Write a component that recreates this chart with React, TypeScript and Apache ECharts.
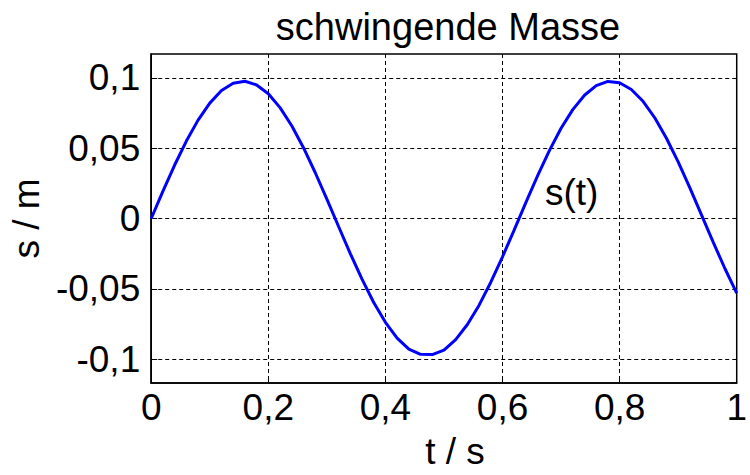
import React, { useEffect, useRef } from "react";
import * as echarts from "echarts";

// Sampled motion of the oscillating mass: time (s) and displacement (m)
const times = [
  0, 0.02, 0.04, 0.06, 0.08, 0.1, 0.12, 0.14, 0.16, 0.18, 0.2, 0.22, 0.24, 0.26,
  0.28, 0.3, 0.32, 0.34, 0.36, 0.38, 0.4, 0.42, 0.44, 0.46, 0.48, 0.5, 0.52,
  0.54, 0.56, 0.58, 0.6, 0.62, 0.64, 0.66, 0.68, 0.7, 0.72, 0.74, 0.76, 0.78,
  0.8, 0.82, 0.84, 0.86, 0.88, 0.9, 0.92, 0.94, 0.96, 0.98, 1.0,
];
const displacement = [
  0, 0.0194, 0.038, 0.055, 0.0699, 0.082, 0.0909, 0.0961, 0.0975, 0.0949,
  0.0887, 0.0788, 0.0659, 0.0503, 0.0327, 0.0138, -0.0057, -0.0249, -0.0431,
  -0.0597, -0.0738, -0.085, -0.0928, -0.0965, -0.0967, -0.0935, -0.0861,
  -0.0753, -0.0616, -0.0453, -0.0272, -0.0081, 0.0114, 0.0304, 0.0482, 0.0641,
  0.0774, 0.0876, 0.0944, 0.0974, 0.0965, 0.0917, 0.0833, 0.0716, 0.057,
  0.0402, 0.0217, 0.0024, -0.017, -0.0357, -0.053,
];

const yTicks = [-0.1, -0.05, 0, 0.05, 0.1];
const curveLabel = { text: "s(t)", t: 0.718, s: 0.0188 };

const FONT = "'Liberation Sans', Arial, Helvetica, sans-serif";
const FS = 37;

const decimalComma = (v: number) =>
  String(Number(v.toFixed(3))).replace(".", ",");

export default function App() {
  const ref = useRef<HTMLDivElement>(null);

  useEffect(() => {
    if (!ref.current) return;
    const chart = echarts.init(ref.current, undefined, { renderer: "svg" });
    const gridLine = { show: true, lineStyle: { color: "#000", width: 1, type: [4, 3] as any } };

    chart.setOption({
      animation: false,
      backgroundColor: "#fff",
      textStyle: { fontFamily: FONT },
      title: {
        text: "schwingende Masse",
        left: 443,
        top: 3,
        textAlign: "center",
        textStyle: { fontFamily: FONT, fontSize: 38, fontWeight: "normal", color: "#000" },
      },
      grid: {
        left: 145,
        width: 600,
        top: 54,
        height: 336,
        show: true,
        borderColor: "#000",
        borderWidth: 1.5,
        backgroundColor: "#fff",
      },
      xAxis: {
        type: "value",
        min: 0,
        max: 1,
        interval: 0.2,
        name: "t / s",
        nameLocation: "middle",
        nameGap: 50,
        nameTextStyle: { fontFamily: FONT, fontSize: FS, color: "#000", padding: [0, 0, 0, 22] },
        axisLine: { show: true, onZero: false, lineStyle: { color: "#000", width: 1.5 } },
        axisTick: { show: true, inside: true, length: 6, lineStyle: { color: "#000" } },
        axisLabel: {
          margin: 6,
          fontFamily: FONT,
          fontSize: FS,
          color: "#000",
          formatter: (v: number) => decimalComma(v),
        },
        splitLine: gridLine,
      },
      yAxis: {
        type: "value",
        min: -0.1169,
        max: 0.1169,
        name: "s / m",
        nameLocation: "middle",
        nameGap: 103,
        nameTextStyle: { fontFamily: FONT, fontSize: FS, color: "#000" },
        axisLine: { show: true, onZero: false, lineStyle: { color: "#000", width: 1.5 } },
        axisTick: {
          show: true,
          inside: true,
          length: 6,
          lineStyle: { color: "#000" },
          customValues: yTicks,
        },
        axisLabel: {
          margin: 11,
          fontFamily: FONT,
          fontSize: FS,
          color: "#000",
          customValues: yTicks,
          formatter: (v: number) => decimalComma(v),
        },
        splitLine: gridLine,
      },
      series: [
        {
          type: "line",
          data: times.map((t, i) => [t, displacement[i]]),
          showSymbol: false,
          symbol: "none",
          lineStyle: { color: "#0000ff", width: 3 },
          markPoint: {
            symbol: "circle",
            symbolSize: 1,
            itemStyle: { color: "rgba(0,0,0,0)" },
            label: {
              show: true,
              position: "inside",
              formatter: curveLabel.text,
              fontFamily: FONT,
              fontSize: FS,
              color: "#000",
            },
            data: [{ coord: [curveLabel.t, curveLabel.s] }],
          },
        },
      ],
    });

    return () => chart.dispose();
  }, []);

  return (
    <div
      ref={ref}
      style={{ position: "fixed", left: 0, top: 0, width: 750, height: 475 }}
    />
  );
}
